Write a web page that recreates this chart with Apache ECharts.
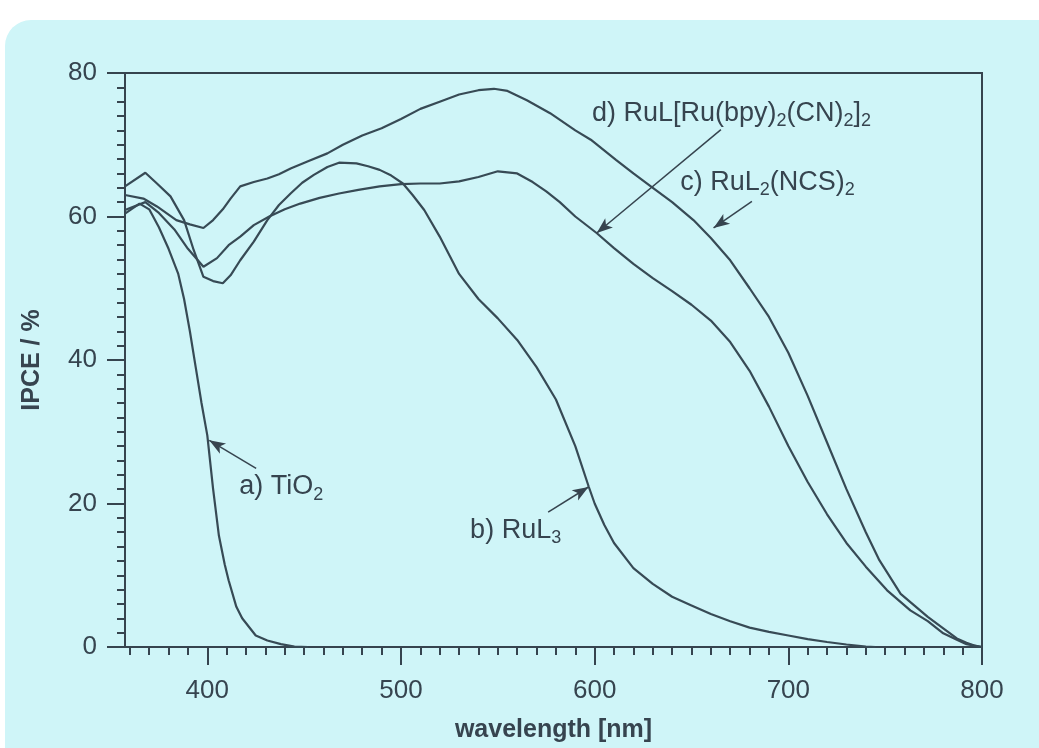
<!DOCTYPE html>
<html>
<head>
<meta charset="utf-8">
<script src="https://cdn.jsdelivr.net/npm/echarts@6/dist/echarts.min.js"></script>
<style>
html,body{margin:0;padding:0;background:#ffffff;}
#chart{width:1039px;height:748px;}
</style>
</head>
<body>
<div id="chart"></div>
<script>
// ---- data ----
const xMajorTicks = [400, 500, 600, 700, 800];
const xMinorTicks = [360,370,380,390,410,420,430,440,450,460,470,480,490,510,520,530,540,550,560,570,580,590,610,620,630,640,650,660,670,680,690,710,720,730,740,750,760,770,780,790];
const yTicks = [0, 20, 40, 60, 80];

// a) TiO2
const aX = [357.5,365,370,375,380,385,388,391,394,397,400,403,406,409,411,415,418,425,431,438,445,452];
const aY = [60.4,61.8,61.0,58.5,55.5,52.0,48.5,44.0,39.0,34.0,29.5,22.0,15.5,11.5,9.3,5.6,4.0,1.6,0.9,0.4,0.05,0];
// b) RuL3
const bX = [357.5,368,374,381,388,393,398,403,408,412,417,424,431,437,443,449,455,462,468,477,483,489,495,501,506,512,520,530,540,550,560,570,580,590,597,600,605,610,620,630,640,650,660,670,680,690,700,710,720,730,740,745];
const bY = [64.2,66.1,64.6,62.8,59.5,55.3,51.6,51.0,50.7,51.8,53.9,56.5,59.5,61.6,63.2,64.7,65.8,66.9,67.5,67.4,67.0,66.5,65.7,64.6,63.0,60.9,57.2,52.0,48.5,45.8,42.8,39.0,34.5,28.0,22.3,20.0,17.0,14.5,11.0,8.8,7.0,5.8,4.6,3.6,2.7,2.1,1.6,1.1,0.7,0.35,0.05,0];
// c) RuL2(NCS)2
const cX = [357.5,367,374,384,391,398,403,408,412,417,424,431,437,443,452,462,470,480,490,500,510,520,530,540,548,555,565,577,590,598,611,620,629,640,651,660,670,680,690,700,710,720,730,740,747,758,765,772,780,787,792,796,800];
const cY = [63.0,62.5,61.4,59.5,58.9,58.4,59.5,61.0,62.5,64.2,64.8,65.3,65.9,66.7,67.7,68.8,70.0,71.3,72.3,73.6,75.0,76.0,77.0,77.6,77.8,77.5,76.2,74.4,72.0,70.7,67.9,66.0,64.2,62.0,59.5,57.0,53.9,50.0,46.0,41.0,35.0,28.5,22.0,16.0,12.1,7.4,5.8,4.2,2.6,1.2,0.6,0.2,0];
// d) RuL[Ru(bpy)2(CN)2]2
const dX = [357.5,368,375,383,390,398,405,411,417,424,432,440,448,458,468,478,489,500,510,520,530,540,550,560,568,575,582,590,601,610,620,630,640,650,660,670,680,690,700,710,720,730,740,751,763,772,780,787,792,796,800];
const dY = [60.9,62.0,60.5,58.2,55.5,53.0,54.2,56.0,57.2,58.8,60.0,61.0,61.8,62.6,63.2,63.7,64.2,64.5,64.6,64.6,64.9,65.5,66.3,66.0,64.8,63.5,62.0,60.0,57.7,55.6,53.4,51.4,49.6,47.7,45.5,42.5,38.5,33.5,28.0,23.0,18.5,14.5,11.2,7.9,5.1,3.6,1.9,1.0,0.4,0.2,0];

// annotations: text anchors (left-middle) and arrows [fromX, fromY, toX, toY]
const labelA = {x: 416.5, y: 22.3, parts: [['n','a) TiO'],['s','2']]};
const labelB = {x: 535.7, y: 16.3, parts: [['n','b) RuL'],['s','3']]};
const labelC = {x: 644.2, y: 64.8, parts: [['n','c) RuL'],['s','2'],['n','(NCS)'],['s','2']]};
const labelD = {x: 598.6, y: 74.4, parts: [['n','d) RuL[Ru(bpy)'],['s','2'],['n','(CN)'],['s','2'],['n',']'],['s','2']]};
const arrowA = [425.2, 24.9, 401.0, 28.8];
const arrowB = [576.0, 18.8, 596.8, 22.3];
const arrowC = [681.2, 62.1, 661.4, 58.4];
const arrowD = [665.2, 72.1, 601.1, 57.7];

// ---- chart ----
const ink = '#36444f';
const lineCol = '#374a55';
const panel = '#cff5f8';
const font = 'Liberation Sans, Arial, sans-serif';
const zip = (xs, ys) => xs.map((x, i) => [x, ys[i]]);
const richText = parts => parts.map(p => '{' + p[0] + '|' + p[1] + '}').join('');

function curve(name, xs, ys) {
  return {
    name, type: 'line', data: zip(xs, ys), showSymbol: false, symbol: 'none',
    lineStyle: {color: lineCol, width: 2.2}, z: 3, silent: true
  };
}
function labelSeries(l) {
  return {
    type: 'scatter', data: [[l.x, l.y]], symbolSize: 0, silent: true, z: 5,
    itemStyle: {opacity: 1},
    label: {
      show: true, position: 'right', distance: 0, color: ink,
      formatter: () => richText(l.parts),
      rich: {
        n: {fontFamily: font, fontSize: 27, color: ink, lineHeight: 34, verticalAlign: 'middle'},
        s: {fontFamily: font, fontSize: 18, color: ink, lineHeight: 34, verticalAlign: 'bottom', padding: [14, 0, 0, 0]}
      }
    }
  };
}
const arrows = [arrowA, arrowB, arrowC, arrowD].map(a => [
  {coord: [a[0], a[1]], symbol: 'none'},
  {coord: [a[2], a[3]], symbol: 'arrow', symbolSize: [9, 16]}
]);

const chart = echarts.init(document.getElementById('chart'), null, {renderer: 'canvas'});
chart.setOption({
  animation: false,
  backgroundColor: '#ffffff',
  graphic: [{
    type: 'rect', z: -10, silent: true,
    shape: {x: 5, y: 20, width: 1080, height: 800, r: 26},
    style: {fill: panel}
  }],
  grid: {left: 125, right: 57, top: 73, bottom: 101, show: true, borderColor: ink, borderWidth: 2, backgroundColor: 'transparent'},
  xAxis: [{
    type: 'value', min: 357.5, max: 800, position: 'bottom',
    axisLine: {show: true, onZero: false, lineStyle: {color: ink, width: 2}},
    axisTick: {show: true, customValues: xMajorTicks, length: 18, lineStyle: {color: ink, width: 2}},
    axisLabel: {customValues: xMajorTicks, margin: 31, fontSize: 26, color: ink, fontFamily: font},
    splitLine: {show: false},
    name: 'wavelength [nm]', nameLocation: 'middle', nameGap: 71,
    nameTextStyle: {fontSize: 25, fontWeight: 'bold', color: ink, fontFamily: font}
  }, {
    type: 'value', min: 357.5, max: 800, position: 'bottom', gridIndex: 0,
    axisLine: {show: false, onZero: false},
    axisTick: {show: true, customValues: xMinorTicks, length: 8, lineStyle: {color: ink, width: 2}},
    axisLabel: {show: false},
    splitLine: {show: false}
  }],
  yAxis: [{
    type: 'value', min: 0, max: 80, interval: 20,
    axisLine: {show: true, onZero: false, lineStyle: {color: ink, width: 2}},
    axisTick: {show: true, length: 18, lineStyle: {color: ink, width: 2}},
    minorTick: {show: true, splitNumber: 10, length: 8, lineStyle: {color: ink, width: 2}},
    axisLabel: {margin: 28, fontSize: 26, color: ink, fontFamily: font,
      formatter: v => yTicks.includes(v) ? String(v) : ''},
    splitLine: {show: false},
    name: 'IPCE / %', nameLocation: 'middle', nameGap: 80, nameRotate: 90,
    nameTextStyle: {fontSize: 25, fontWeight: 'bold', color: ink, fontFamily: font}
  }],
  series: [
    curve('a) TiO2', aX, aY),
    curve('b) RuL3', bX, bY),
    curve('c) RuL2(NCS)2', cX, cY),
    Object.assign(curve('d) RuL[Ru(bpy)2(CN)2]2', dX, dY), {
      markLine: {
        silent: true, animation: false, symbol: ['none', 'arrow'],
        label: {show: false},
        lineStyle: {color: ink, width: 1.5, type: 'solid'},
        data: arrows
      }
    }),
    labelSeries(labelA), labelSeries(labelB), labelSeries(labelC), labelSeries(labelD)
  ]
});
</script>
</body>
</html>
